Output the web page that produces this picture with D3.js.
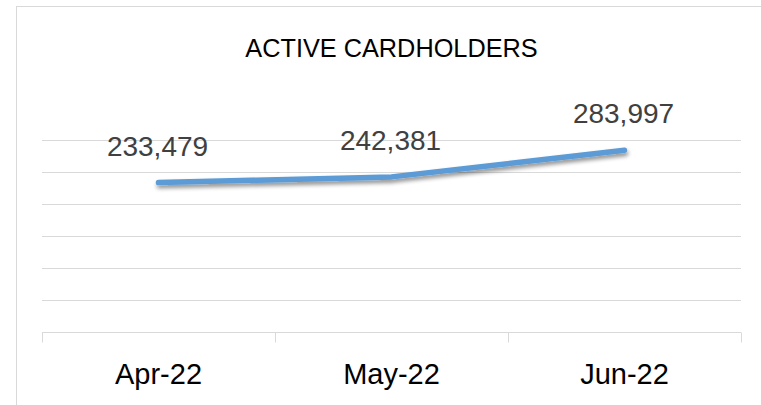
<!DOCTYPE html>
<html><head><meta charset="utf-8">
<script src="https://cdn.jsdelivr.net/npm/d3@7"></script>
<style>html,body{margin:0;padding:0;background:#fff;overflow:hidden}</style>
</head><body>
<svg id="c" width="761" height="405"></svg>
<script>
const title = "ACTIVE CARDHOLDERS";
const categories = ["Apr-22", "May-22", "Jun-22"];
const values = [233479, 242381, 283997];
const yTicks = [0, 50000, 100000, 150000, 200000, 250000, 300000];

const svg = d3.select("#c");
const font = "'Liberation Sans', Arial, sans-serif";
const m = {left: 42, right: 741, top: 140, bottom: 332};

// outer chart border
svg.append("rect").attr("x", 16.5).attr("y", 6.5).attr("width", 800).attr("height", 500)
  .attr("fill", "#fff").attr("stroke", "#d9d9d9").attr("stroke-width", 1);

const x = d3.scaleBand().domain(categories).range([m.left, m.right]);
const y = d3.scaleLinear().domain([0, 300000]).range([m.bottom, m.top]);

// gridlines
svg.append("g").selectAll("line").data(yTicks.slice(1)).join("line")
  .attr("x1", m.left).attr("x2", m.right)
  .attr("y1", d => Math.round(y(d)) + 0.5).attr("y2", d => Math.round(y(d)) + 0.5)
  .attr("stroke", "#d9d9d9").attr("stroke-width", 1);

// x axis
const gx = svg.append("g").attr("transform", `translate(0,${m.bottom + 0.5})`);
gx.append("line").attr("x1", m.left).attr("x2", m.right).attr("stroke", "#d9d9d9");
const bounds = categories.map(c => x(c)).concat([x(categories[categories.length-1]) + x.bandwidth()]);
gx.selectAll(".tk").data(bounds).join("line")
  .attr("x1", d => Math.round(d) + 0.5).attr("x2", d => Math.round(d) + 0.5)
  .attr("y1", 0).attr("y2", 10).attr("stroke", "#d9d9d9");
gx.selectAll(".lbl").data(categories).join("text")
  .attr("x", d => x(d) + x.bandwidth() / 2).attr("y", 51)
  .attr("text-anchor", "middle").attr("font-family", font).attr("font-size", 29)
  .attr("fill", "#000").text(d => d);

// shadow filter
const defs = svg.append("defs");
const f = defs.append("filter").attr("id", "sh").attr("x", "-10%").attr("y", "-100%").attr("width", "120%").attr("height", "400%");
f.append("feGaussianBlur").attr("in", "SourceAlpha").attr("stdDeviation", 2.2);
f.append("feOffset").attr("dx", 1).attr("dy", 3).attr("result", "o");
f.append("feComponentTransfer").append("feFuncA").attr("type", "linear").attr("slope", 0.45);
const mg = f.append("feMerge");
mg.append("feMergeNode");
mg.append("feMergeNode").attr("in", "SourceGraphic");

const pts = categories.map((c, i) => [x(c) + x.bandwidth() / 2, y(values[i])]);
const line = d3.line().curve(d3.curveLinear);
svg.append("path").attr("d", line(pts)).attr("fill", "none")
  .attr("stroke", "#5b9bd5").attr("stroke-width", 5.5).attr("stroke-linecap", "round")
  .attr("stroke-linejoin", "round").attr("filter", "url(#sh)");

// data labels
const fmt = d3.format(",");
svg.append("g").selectAll("text").data(values).join("text")
  .attr("x", (d, i) => x(categories[i]) + x.bandwidth() / 2 - 1)
  .attr("y", d => y(d) - 27)
  .attr("text-anchor", "middle").attr("font-family", font).attr("font-size", 28)
  .attr("fill", "#404040").text(d => fmt(d));

// title
svg.append("text").attr("x", (m.left + m.right) / 2).attr("y", 57)
  .attr("text-anchor", "middle").attr("font-family", font).attr("font-size", 25.3)
  .attr("fill", "#000").text(title);
</script>
</body></html>
